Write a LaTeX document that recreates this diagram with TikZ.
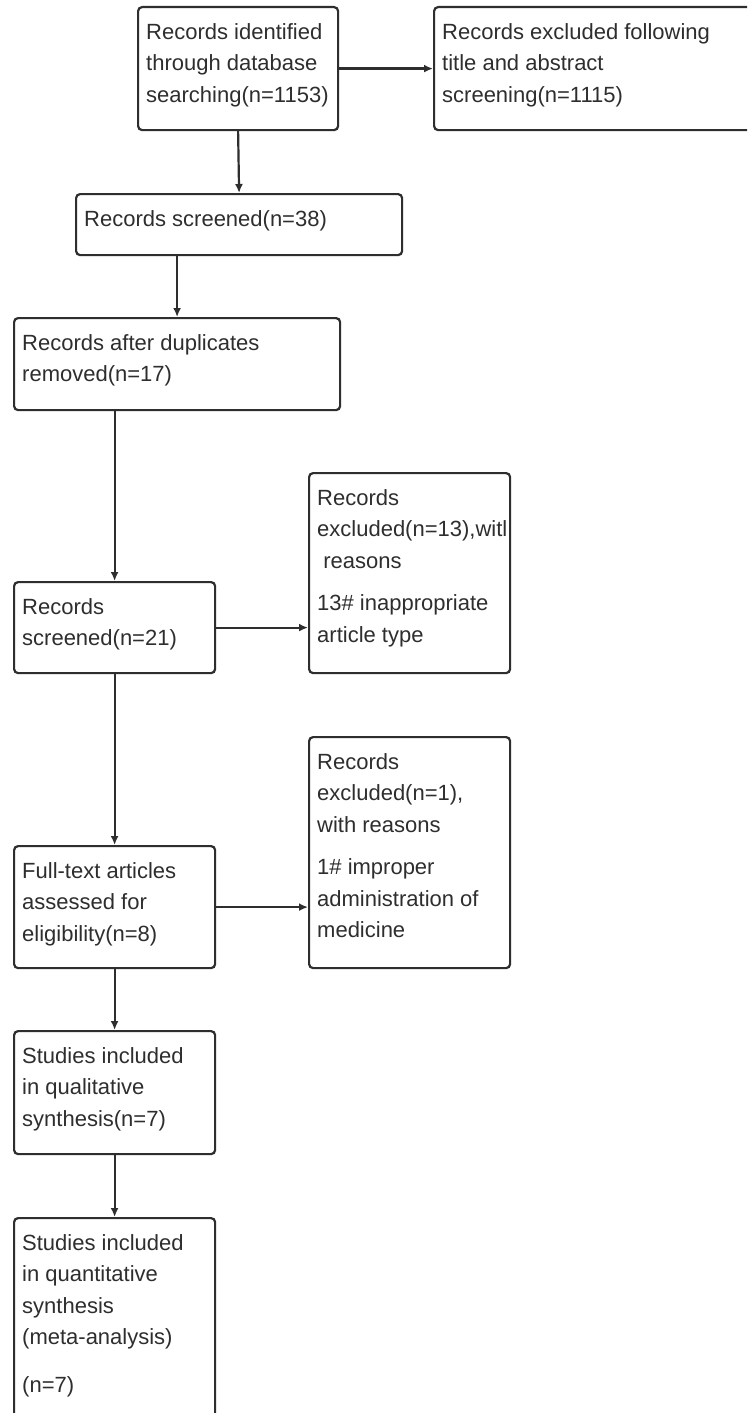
\documentclass[tikz,border=0pt]{standalone}
\usepackage{fontspec}
\setmainfont{Liberation Sans}
\usetikzlibrary{arrows.meta}
\definecolor{ink}{HTML}{2E2E2E}
\begin{document}
\begin{tikzpicture}[x=1pt,y=-1pt,
  box/.style={draw=ink, line width=2.2pt, rounded corners=4pt, anchor=north west, inner sep=0pt},
  txt/.style={anchor=north west, inner sep=0pt, align=left, font=\fontsize{22}{31.5}\selectfont, text=ink},
  arr/.style={draw=ink, line width=2.2pt, -{Latex[length=9pt,width=8pt]}}]
\useasboundingbox (0,0) rectangle (747,1413);
\clip (0,0) rectangle (747,1413);
\fill[white] (0,0) rectangle (747,1413);
% boxes
\node[box, minimum width=200pt, minimum height=123pt] (a) at (137,6) {};
\node[box, minimum width=330pt, minimum height=123pt] (b) at (433,6) {};
\node[box, minimum width=326pt, minimum height=61pt] (c) at (75,193) {};
\node[box, minimum width=326pt, minimum height=92pt] (d) at (13,317) {};
\node[box, minimum width=201pt, minimum height=91pt] (e) at (13,581) {};
\node[box, minimum width=201pt, minimum height=200pt] (f) at (308,472) {};
\node[box, minimum width=201pt, minimum height=122pt] (g) at (13,845) {};
\node[box, minimum width=201pt, minimum height=231pt] (h) at (308,736) {};
\node[box, minimum width=201pt, minimum height=123pt] (i) at (13,1030) {};
\node[box, minimum width=201pt, minimum height=215pt] (j) at (13,1217) {};
% texts
\node[txt] (ta) at ([shift={(9,17)}]a.north west) {Records identified\\through database\\searching(n=1153)};
\node[txt] (tb) at ([shift={(9,17)}]b.north west) {Records excluded following\\title and abstract\\screening(n=1115)};
\node[txt] (tc) at ([shift={(9,17)}]c.north west) {Records screened(n=38)};
\node[txt] (td) at ([shift={(9,17)}]d.north west) {Records after duplicates\\removed(n=17)};
\node[txt] (te) at ([shift={(9,17)}]e.north west) {Records\\screened(n=21)};
\node[txt] (tf) at ([shift={(9,17)}]f.north west) {Records\\excluded(n=13),witl\\\ reasons\\[11pt]13\# inappropriate\\article type};
\node[txt] (tg) at ([shift={(9,17)}]g.north west) {Full-text articles\\assessed for\\eligibility(n=8)};
\node[txt] (th) at ([shift={(9,17)}]h.north west) {Records\\excluded(n=1),\\with reasons\\[11pt]1\# improper\\administration of\\medicine};
\node[txt] (ti) at ([shift={(9,17)}]i.north west) {Studies included\\in qualitative\\synthesis(n=7)};
\node[txt] (tj) at ([shift={(9,17)}]j.north west) {Studies included\\in quantitative\\synthesis\\(meta-analysis)\\[16pt](n=7)};
% arrows
\draw[arr] (a.east) -- (b.west);
\draw[arr] (a.south) -- (c.north);
\draw[arr] (c.south -| d.north) -- (d.north);
\draw[arr] (d.south -| e.north) -- (e.north);
\draw[arr] (e.east) -- (e.east -| f.west);
\draw[arr] (e.south) -- (g.north);
\draw[arr] (g.east) -- (g.east -| h.west);
\draw[arr] (g.south) -- (i.north);
\draw[arr] (i.south) -- (j.north);
\end{tikzpicture}
\end{document}
